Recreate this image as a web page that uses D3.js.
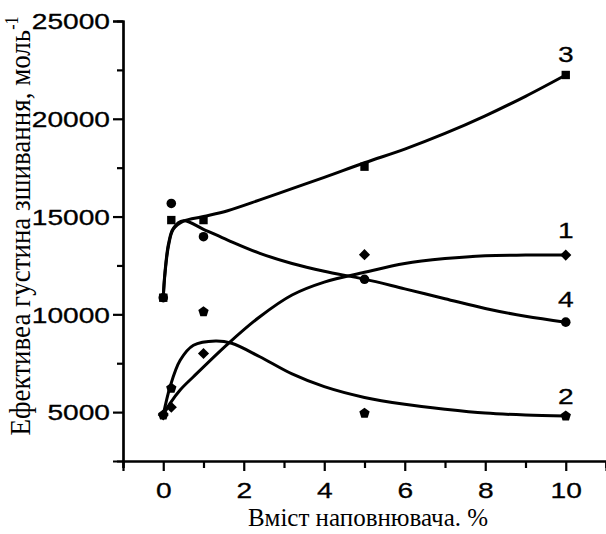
<!DOCTYPE html>
<html>
<head>
<meta charset="utf-8">
<script src="https://cdn.jsdelivr.net/npm/d3@7"></script>
<style>
  body { margin: 0; background: #fff; }
  .serif { font-family: 'Liberation Serif', 'DejaVu Serif', serif; }
</style>
</head>
<body>
<div id="chart"></div>
<script>
// measured points
var xPoints = [0, 0.2, 1, 5, 10];
var s1 = [4850, 5250, 8000, 13050, 13030];   // diamonds
var s2 = [4850, 6220, 10130, 4940, 4800];    // pentagons
var s3 = [10850, 14820, 14820, 17550, 22240]; // squares
var s4 = [10850, 15670, 13970, 11790, 9600];  // circles

// fitted curves
var c1x = [0, 0.17, 0.42, 0.75, 1.6, 2.4, 3.2, 4, 5, 6, 7, 8, 9, 10];
var c1y = [4850, 5450, 6130, 6810, 8480, 9880, 10990, 11650, 12150, 12600, 12850, 13000, 13030, 13030];
var c2x = [0, 0.17, 0.42, 0.75, 1.3, 1.7, 2.4, 3.2, 4, 5, 6, 7, 8, 9, 10];
var c2y = [4850, 6300, 7650, 8420, 8640, 8520, 7830, 6950, 6300, 5750, 5400, 5150, 4950, 4850, 4800];
var c3x = [0, 0.04, 0.13, 0.25, 0.5, 1, 1.6, 2.4, 3.2, 4, 5, 6, 7, 8, 9, 10];
var c3y = [10850, 12000, 13500, 14350, 14760, 15000, 15300, 15850, 16430, 17000, 17750, 18450, 19250, 20150, 21150, 22240];
var c4x = [0, 0.04, 0.13, 0.25, 0.5, 1, 1.6, 2.4, 3.2, 4, 5, 6, 7, 8, 9, 10];
var c4y = [10850, 12100, 13600, 14400, 14780, 14350, 13800, 13120, 12600, 12200, 11800, 11300, 10800, 10300, 9900, 9600];

var curveLabels = ["1", "2", "3", "4"];
var labelY = [13900, 5400, 22900, 10350];

var yMajor = [5000, 10000, 15000, 20000, 25000];
var yMinor = [7500, 12500, 17500, 22500];
var xMajor = [0, 2, 4, 6, 8, 10];
var xMinor = [-1, 1, 3, 5, 7, 9, 11];

var svgWidth = 606;
var svgHeight = 534;
var sx = 1.28; // numbers look stretched sideways in the picture
var sansFont = "'Liberation Sans', Arial, sans-serif";

var svg = d3.select("#chart").append("svg")
  .attr("width", svgWidth)
  .attr("height", svgHeight);

var x = d3.scaleLinear().domain([-1, 11]).range([123, 606]);
var y = d3.scaleLinear().domain([2500, 25000]).range([461, 21]);

// axes
var yAxisMinor = d3.axisLeft(y).tickValues(yMinor).tickSize(6).tickFormat("");
var yAxisMajor = d3.axisLeft(y).tickValues(yMajor).tickSize(10).tickFormat(d3.format("d"));
var xAxisMinor = d3.axisBottom(x).tickValues(xMinor).tickSize(7).tickFormat("");
var xAxisMajor = d3.axisBottom(x).tickValues(xMajor).tickSize(10).tickFormat(d3.format("d"));

function styleAxis(g) {
  g.attr("font-family", sansFont).attr("font-size", 22);
  g.selectAll("path, line").attr("stroke", "#000").attr("stroke-width", 2.2);
  g.selectAll("text").attr("fill", "#000").attr("stroke", "#000").attr("stroke-width", 0.3);
}

svg.append("g").attr("transform", "translate(123,0)").call(yAxisMinor).call(styleAxis);
var gy = svg.append("g").attr("transform", "translate(123,0)").call(yAxisMajor).call(styleAxis);
gy.selectAll("text")
  .attr("x", -13 / sx)
  .attr("dy", "0.35em")
  .attr("transform", "scale(" + sx + ",1)");

svg.append("g").attr("transform", "translate(0,461)").call(xAxisMinor).call(styleAxis);
var gx = svg.append("g").attr("transform", "translate(0,461)").call(xAxisMajor).call(styleAxis);
gx.selectAll("text")
  .attr("y", 21)
  .attr("dy", "0.71em")
  .attr("transform", "scale(" + sx + ",1)");

// curves
var line = d3.line()
  .x(d => x(d[0]))
  .y(d => y(d[1]))
  .curve(d3.curveCatmullRom.alpha(0.5));

[[c1x, c1y], [c2x, c2y], [c3x, c3y], [c4x, c4y]].forEach(function(c) {
  svg.append("path")
    .datum(d3.zip(c[0], c[1]))
    .attr("fill", "none")
    .attr("stroke", "#000")
    .attr("stroke-width", 3)
    .attr("d", line);
});

// markers
function polygon(n, start, k) {
  return {
    draw: function(context, size) {
      var r = Math.sqrt(size / k);
      for (var i = 0; i < n; i++) {
        var a = start + i * 2 * Math.PI / n;
        if (i === 0) context.moveTo(r * Math.cos(a), r * Math.sin(a));
        else context.lineTo(r * Math.cos(a), r * Math.sin(a));
      }
      context.closePath();
    }
  };
}
var pentagon = polygon(5, -Math.PI / 2, 2.38);
var diamond = polygon(4, -Math.PI / 2, 2);

var series = [
  { values: s1, type: diamond, size: 62 },
  { values: s2, type: pentagon, size: 70 },
  { values: s3, type: d3.symbolSquare, size: 70 },
  { values: s4, type: d3.symbolCircle, size: 72 }
];

series.forEach(function(s) {
  svg.append("g").selectAll("path")
    .data(d3.zip(xPoints, s.values))
    .enter()
    .append("path")
    .attr("transform", d => `translate(${x(d[0])},${y(d[1])})`)
    .attr("d", d3.symbol().type(s.type).size(s.size))
    .attr("fill", "#000");
});

// curve numbers
svg.append("g").selectAll("text")
  .data(curveLabels)
  .enter()
  .append("text")
  .attr("font-family", sansFont)
  .attr("font-size", 22)
  .attr("stroke", "#000")
  .attr("stroke-width", 0.3)
  .attr("text-anchor", "middle")
  .attr("transform", (d, i) => `translate(${x(10)},${y(labelY[i])}) scale(${sx},1)`)
  .text(d => d);

// axis titles
svg.append("text")
  .attr("class", "serif")
  .style("font-family", "'Liberation Serif', 'DejaVu Serif', serif")
  .attr("font-size", 25)
  .attr("text-anchor", "middle")
  .attr("x", 368)
  .attr("y", 526)
  .text("Вміст наповнювача. %");

var yt = svg.append("text")
  .attr("class", "serif")
  .style("font-family", "'Liberation Serif', 'DejaVu Serif', serif")
  .attr("font-size", 27)
  .attr("text-anchor", "middle")
  .attr("transform", "translate(30,226) scale(1.12,1) rotate(-90)");
yt.append("tspan").text("Ефективеа густина зшивання, моль");
yt.append("tspan").attr("font-size", 16).attr("dy", -11).text("-1");
</script>
</body>
</html>
